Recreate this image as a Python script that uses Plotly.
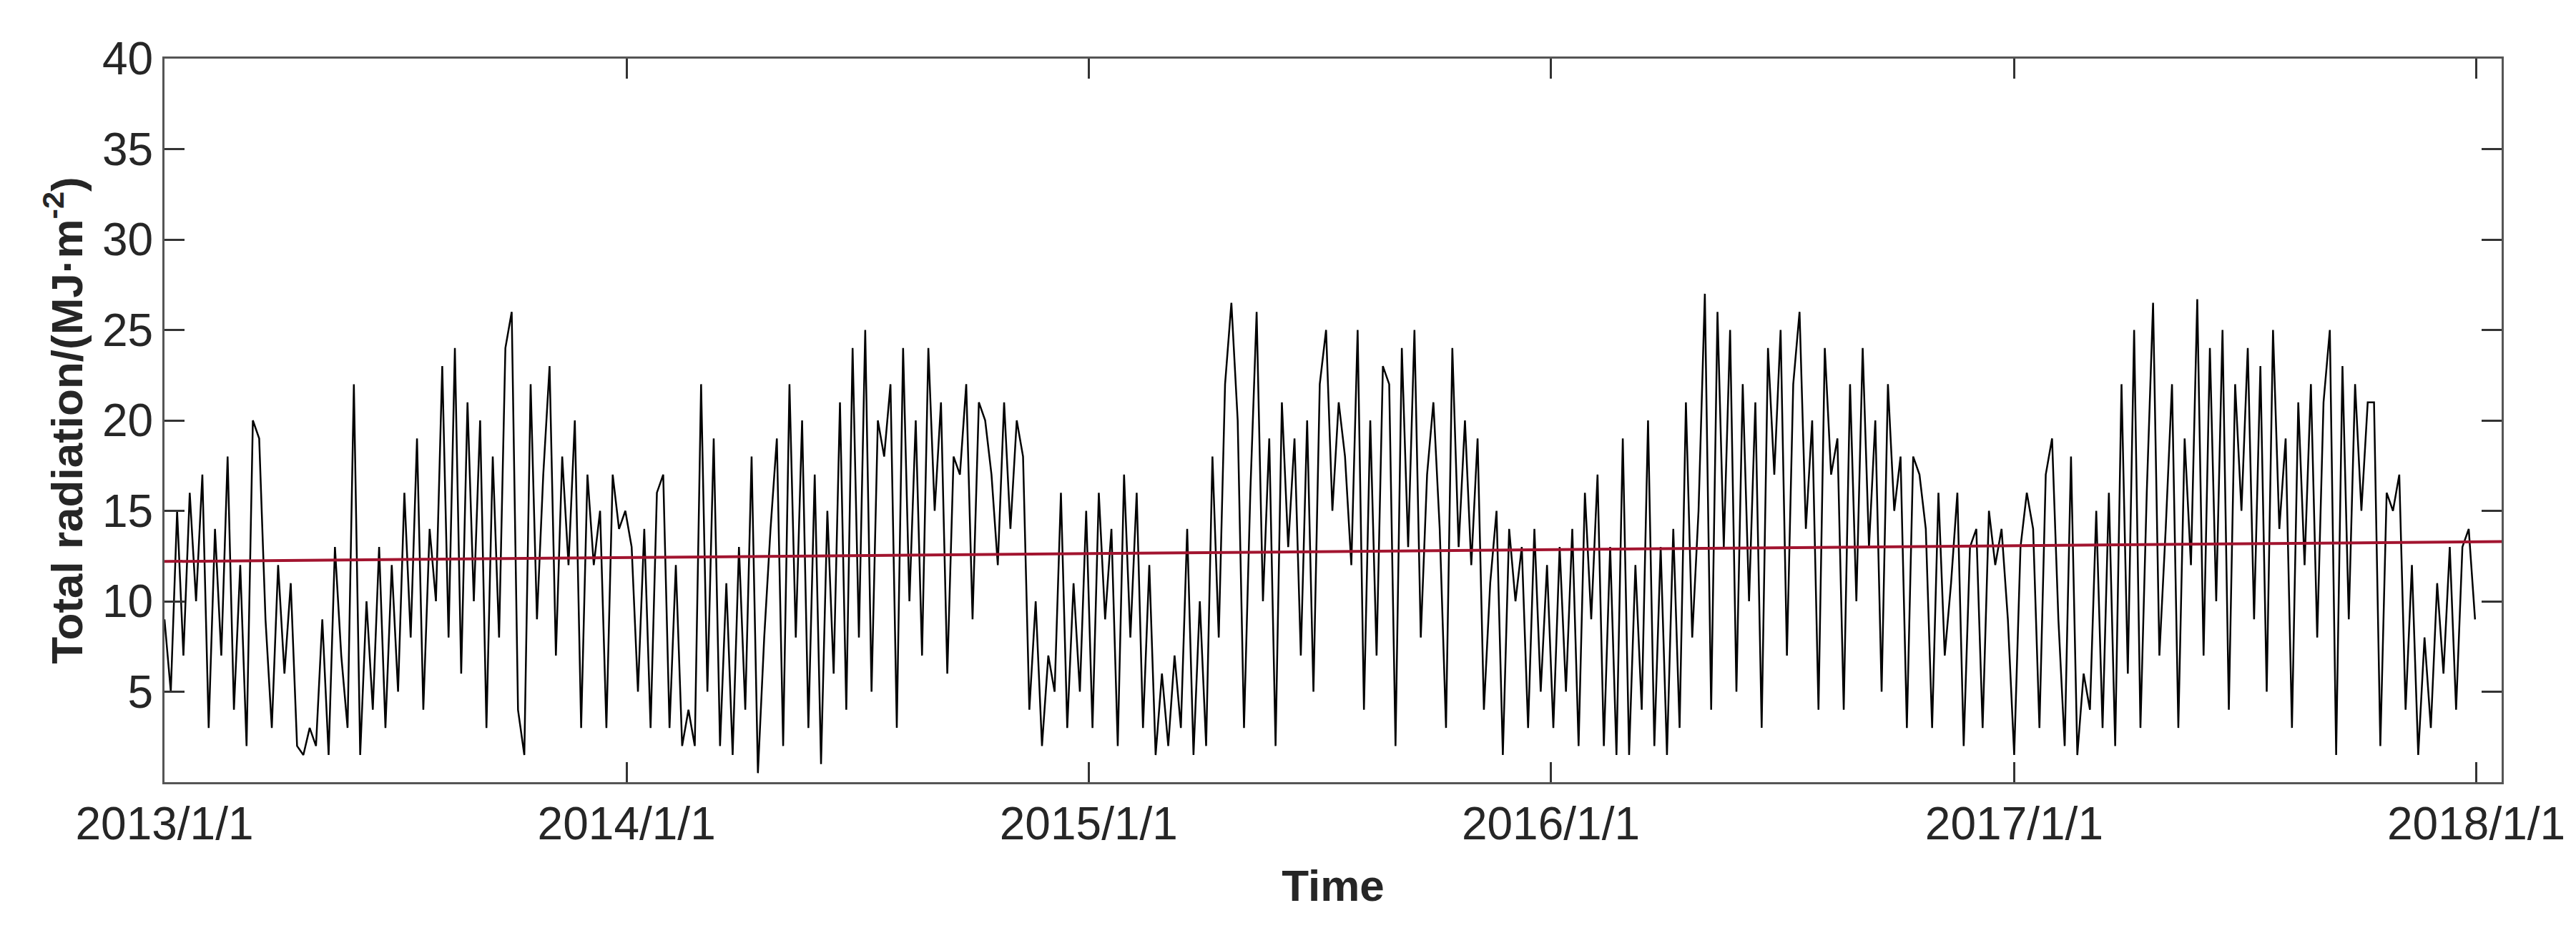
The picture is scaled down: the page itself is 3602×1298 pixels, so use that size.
import pandas as pd
import plotly.graph_objects as go

# roughly 5-day readings, MJ/m2
rad_2013 = [9, 5, 15, 7, 16, 10, 17, 3, 14, 7, 18, 4, 12, 2, 20, 19, 9, 3, 12, 6, 11, 2, 1.5, 3, 2, 9, 1.5,
            13, 7, 3, 22, 1.5, 10, 4, 13, 3, 12, 5, 16, 8, 19, 4, 14, 10, 23, 8, 24, 6, 21, 10, 20, 3, 18, 8,
            24, 26, 4, 1.5, 22, 9, 17, 23, 7, 18, 12, 20, 3, 17, 12, 15, 3, 17, 14]
rad_2014 = [15, 13, 5, 14, 3, 16, 17, 3, 12, 2, 4, 2, 22, 5, 19, 2, 11, 1.5, 13, 4, 18, 0.5, 8, 14, 19, 2, 22,
            8, 20, 3, 17, 1, 15, 6, 21, 4, 24, 8, 25, 5, 20, 18, 22, 3, 24, 10, 20, 7, 24, 15, 21, 6, 18, 17,
            22, 9, 21, 20, 17, 12, 21, 14, 20, 18, 4, 10, 2, 7, 5, 16, 3, 11, 5]
rad_2015 = [15, 3, 16, 9, 14, 2, 17, 8, 16, 3, 12, 1.5, 6, 2, 7, 3, 14, 1.5, 10, 2, 18, 8, 22, 26.5, 20, 3, 16,
            26, 10, 19, 2, 21, 13, 19, 7, 20, 5, 22, 25, 15, 21, 18, 12, 25, 4, 20, 7, 23, 22, 2, 24, 13, 25, 8,
            17, 21, 14, 3, 24, 13, 20, 12, 19, 4, 11, 15, 1.5, 14, 10, 13, 3, 14, 5]
rad_2016 = [12, 3, 13, 5, 14, 2, 16, 9, 17, 2, 13, 1.5, 19, 1.5, 12, 4, 20, 2, 13, 1.5, 14, 3, 21, 8, 15, 27, 4,
            26, 13, 25, 5, 22, 10, 21, 3, 24, 17, 25, 7, 22, 26, 14, 20, 4, 24, 17, 19, 4, 22, 10, 24, 13, 20, 5,
            22, 15, 18, 3, 18, 17, 14, 3, 16, 7, 11, 16, 2, 13, 14, 3, 15, 12, 14]
rad_2017 = [9, 1.5, 13, 16, 14, 3, 17, 19, 9, 2, 18, 1.5, 6, 4, 15, 3, 16, 2, 22, 6, 25, 3, 16, 26.5, 7, 14, 22,
            3, 19, 12, 26.7, 7, 24, 10, 25, 4, 22, 15, 24, 9, 23, 5, 25, 14, 19, 3, 21, 12, 22, 8, 21, 25, 1.5,
            23, 9, 22, 15, 21, 21, 2, 16, 15, 17, 4, 12, 1.5, 8, 3, 11, 6, 13, 4, 13, 14, 9]

radiation = rad_2013 + rad_2014 + rad_2015 + rad_2016 + rad_2017
dates = pd.date_range("2013-01-01", "2017-12-31", periods=len(radiation))

trend_dates = ["2013-01-01", "2018-01-21"]
trend_values = [12.2, 13.3]

tick_dates = ["2013-01-01", "2014-01-01", "2015-01-01", "2016-01-01", "2017-01-01", "2018-01-01"]
tick_labels = ["2013/1/1", "2014/1/1", "2015/1/1", "2016/1/1", "2017/1/1", "2018/1/1"]

fig = go.Figure()
fig.add_trace(go.Scatter(x=dates, y=radiation, mode="lines", line=dict(color="black", width=2.5)))
fig.add_trace(go.Scatter(x=trend_dates, y=trend_values, mode="lines", line=dict(color="#a2142f", width=4)))

axis_style = dict(
    showline=True, linecolor="#555555", linewidth=3, mirror="ticks",
    ticks="inside", ticklen=28, tickwidth=3, tickcolor="#333333",
    showgrid=False, zeroline=False,
    tickfont=dict(family="Liberation Sans", size=64, color="#262626"),
)

fig.update_layout(
    width=3602, height=1298,
    margin=dict(l=222, r=112, t=74, b=212),
    plot_bgcolor="white", paper_bgcolor="white",
    showlegend=False,
    font=dict(family="Liberation Sans", color="#262626"),
)
fig.update_xaxes(
    range=["2013-01-01", "2018-01-21"],
    tickvals=tick_dates, ticktext=tick_labels,
    title=dict(text="<b>Time</b>", font=dict(size=62, color="#262626"), standoff=30),
    **axis_style,
)
fig.update_yaxes(
    range=[0, 40], tickvals=[5, 10, 15, 20, 25, 30, 35, 40],
    title=dict(text="<b>Total radiation/(MJ·m<sup>-2</sup>)</b>", font=dict(size=62, color="#262626"), standoff=8),
    **axis_style,
)

fig.write_html("out.html")
